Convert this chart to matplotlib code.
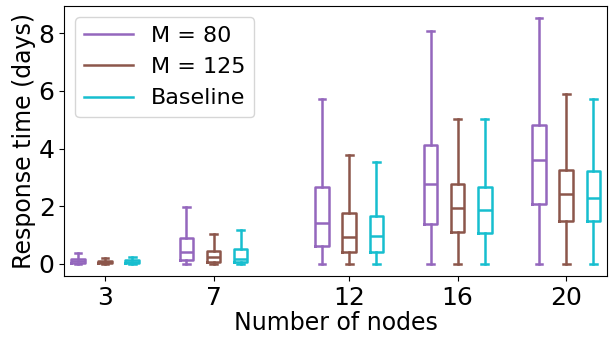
import matplotlib
matplotlib.use("Agg")
import matplotlib.pyplot as plt
from matplotlib.lines import Line2D

nodes = [3, 7, 12, 16, 20]
labels = ['M = 80', 'M = 125', 'Baseline']
colors = ['#9467bd', '#8c564b', '#17becf']
offsets = [-1, 0, 1]

# box stats per series: (lower whisker, q1, median, q3, upper whisker)
m80 = [(0, 0.01, 0.08, 0.16, 0.36),
       (0, 0.13, 0.40, 0.88, 1.98),
       (0, 0.61, 1.41, 2.66, 5.71),
       (0, 1.38, 2.78, 4.12, 8.09),
       (0, 2.07, 3.60, 4.82, 8.54)]
m125 = [(0, 0.01, 0.05, 0.10, 0.20),
        (0, 0.05, 0.22, 0.45, 1.04),
        (0, 0.41, 0.92, 1.75, 3.76),
        (0, 1.10, 1.93, 2.77, 5.01),
        (0, 1.48, 2.41, 3.26, 5.88)]
base = [(0, 0.01, 0.06, 0.12, 0.22),
        (0, 0.04, 0.15, 0.51, 1.17),
        (0, 0.41, 0.96, 1.66, 3.52),
        (0, 1.08, 1.85, 2.66, 5.01),
        (0, 1.47, 2.29, 3.23, 5.73)]

fig, ax = plt.subplots(figsize=(6.13, 3.37), dpi=100)

handles = []
for series, col, off, lab in zip([m80, m125, base], colors, offsets, labels):
    stats = []
    for s in series:
        stats.append(dict(whislo=s[0], q1=s[1], med=s[2], q3=s[3], whishi=s[4], fliers=[]))
    pos = [n + off for n in nodes]
    lw = 1.8
    ax.bxp(stats, positions=pos, widths=0.5, showfliers=False, manage_ticks=False,
           boxprops=dict(color=col, linewidth=lw),
           whiskerprops=dict(color=col, linewidth=lw),
           capprops=dict(color=col, linewidth=lw),
           medianprops=dict(color=col, linewidth=lw))
    handles.append(Line2D([], [], color=col, linewidth=lw, label=lab))

ax.set_xticks(nodes)
ax.set_xticklabels([str(n) for n in nodes])
ax.set_xlim(1.5, 21.5)
ax.set_ylim(-0.43, 8.95)
ax.set_yticks([0, 2, 4, 6, 8])
ax.tick_params(labelsize=18)
ax.set_xlabel('Number of nodes', fontsize=17, labelpad=1)
ax.set_ylabel('Response time (days)', fontsize=17, labelpad=2)
ax.legend(handles=handles, loc='upper left', fontsize=16, handlelength=2.2)

plt.subplots_adjust(left=0.105, right=0.99, top=0.982, bottom=0.181)
plt.savefig('out.png')
